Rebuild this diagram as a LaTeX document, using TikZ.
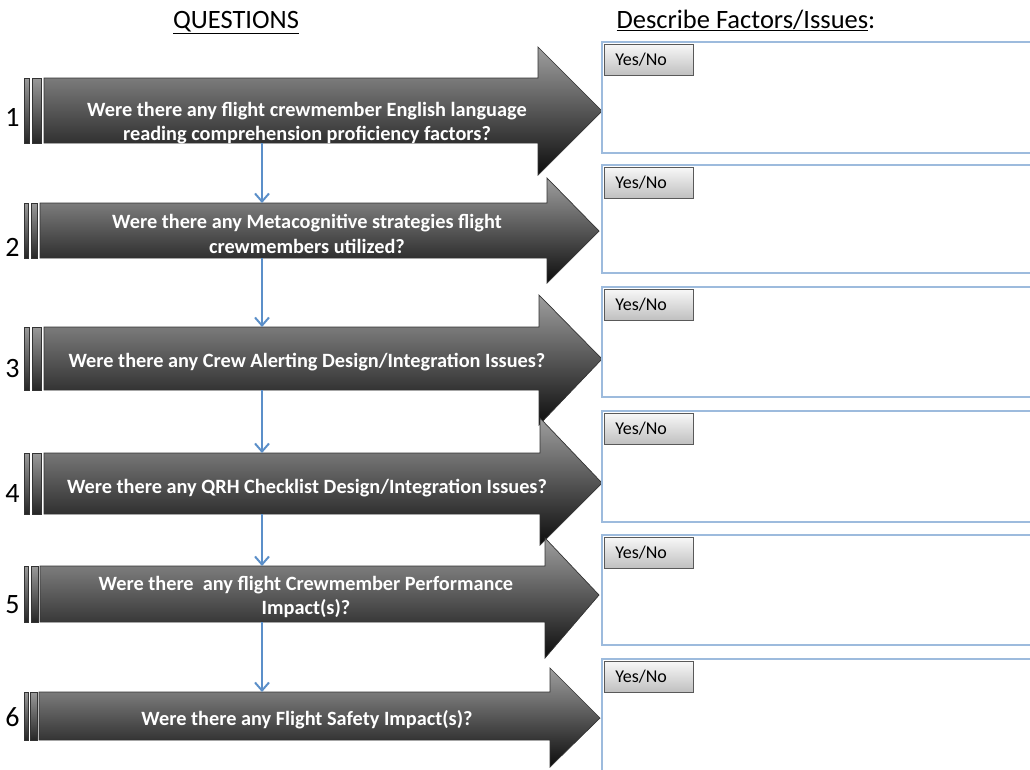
\documentclass[tikz,border=0pt]{standalone}
\usepackage{fontspec}
\setmainfont{Carlito}
\usetikzlibrary{arrows,arrows.meta,positioning,calc}
\definecolor{flowblue}{HTML}{5B8FC9}
\definecolor{boxblue}{HTML}{9DBBDD}

\begin{document}
\begin{tikzpicture}[x=1pt,y=-1pt,
    qarrow/.style={top color=black!38, bottom color=black!95, draw=black!80, line width=0.7pt},
    qbar/.style={top color=black!40, bottom color=black!85, draw=black!80, line width=0.6pt},
    qtext/.style={text=white, align=center, font=\fontsize{20.3}{24.5}\selectfont\bfseries},
    qnum/.style={anchor=base east, font=\fontsize{28}{28}\selectfont},
    head/.style={anchor=base, font=\fontsize{26.5}{26.5}\selectfont},
    ansbox/.style={draw=boxblue, line width=1.2pt},
    yesno/.style={draw=black!65, line width=0.8pt, top color=black!3, bottom color=black!25,
        anchor=north west, minimum width=89pt, minimum height=31pt, text width=67pt,
        inner xsep=11pt, align=left, font=\fontsize{18}{18}\selectfont},
    flow/.style={-{Straight Barb[length=8pt,width=14pt,line width=2pt]}, draw=flowblue, line width=2.2pt}]
    \clip (0,0) rectangle (1030,769);

    % Headings
    \node[head] (qhead) at (236,28) {\underline{QUESTIONS}};
    \node[head, anchor=base west] (ahead) at (613,28) {\underline{Describe Factors/Issues}:};

    % Question 1
    \draw[qbar] (24,78) rectangle (29,143);
    \draw[qbar] (32,78) rectangle (41,143);
    \draw[qarrow] (44,78) -- (538,78) -- (538,47) -- (602,111) -- (538,175) -- (538,143) -- (44,143) -- cycle;
    \node[qnum] (n1) at (23,126) {1};
    \node[qtext] (q1) at (307,123) {Were there any flight crewmember English language\\reading comprehension proficiency factors?};
    \coordinate (q1s) at (262,143);
    \draw[ansbox] (602,42) rectangle (1040,153);
    \node[yesno] (yn1) at (604,44) {Yes/No};

    % Question 2
    \draw[qbar] (24,203) rectangle (28,258);
    \draw[qbar] (31,203) rectangle (37,258);
    \draw[qarrow] (40,203) -- (547,203) -- (547,178) -- (599,231) -- (547,283) -- (547,258) -- (40,258) -- cycle;
    \node[qnum] (n2) at (23,256) {2};
    \node[qtext] (q2) at (307,234) {Were there any Metacognitive strategies flight\\crewmembers utilized?};
    \coordinate (q2n) at (262,203);
    \coordinate (q2s) at (262,258);
    \draw[ansbox] (602,165) rectangle (1040,273);
    \node[yesno] (yn2) at (604,167) {Yes/No};

    % Question 3
    \draw[qbar] (24,327) rectangle (29,390);
    \draw[qbar] (32,327) rectangle (41,390);
    \draw[qarrow] (44,327) -- (539,327) -- (539,295) -- (602,359) -- (539,425) -- (539,390) -- (44,390) -- cycle;
    \node[qnum] (n3) at (23,377) {3};
    \node[qtext] (q3) at (307,362) {Were there any Crew Alerting Design/Integration Issues?};
    \coordinate (q3n) at (262,327);
    \coordinate (q3s) at (262,390);
    \draw[ansbox] (602,287) rectangle (1040,397);
    \node[yesno] (yn3) at (604,289) {Yes/No};

    % Question 4
    \draw[qbar] (24,453) rectangle (29,514);
    \draw[qbar] (32,453) rectangle (41,514);
    \draw[qarrow] (44,453) -- (540,453) -- (540,418) -- (602,483) -- (540,545) -- (540,514) -- (44,514) -- cycle;
    \node[qnum] (n4) at (23,502) {4};
    \node[qtext] (q4) at (307,488) {Were there any QRH Checklist Design/Integration Issues?};
    \coordinate (q4n) at (262,453);
    \coordinate (q4s) at (262,514);
    \draw[ansbox] (602,411) rectangle (1040,522);
    \node[yesno] (yn4) at (604,413) {Yes/No};

    % Question 5
    \draw[qbar] (24,566) rectangle (28,622);
    \draw[qbar] (31,566) rectangle (38,622);
    \draw[qarrow] (40,566) -- (545,566) -- (545,538) -- (599,595) -- (545,658) -- (545,622) -- (40,622) -- cycle;
    \node[qnum] (n5) at (23,613) {5};
    \node[qtext] (q5) at (306,597) {Were there~ any flight Crewmember Performance\\Impact(s)?};
    \coordinate (q5n) at (262,566);
    \coordinate (q5s) at (262,622);
    \draw[ansbox] (602,535) rectangle (1040,645);
    \node[yesno] (yn5) at (604,537) {Yes/No};

    % Question 6
    \draw[qbar] (24,692) rectangle (28,740);
    \draw[qbar] (30,692) rectangle (37,740);
    \draw[qarrow] (39,692) -- (550,692) -- (550,668) -- (600,718) -- (550,767) -- (550,740) -- (39,740) -- cycle;
    \node[qnum] (n6) at (23,726) {6};
    \node[qtext] (q6) at (307,720) {Were there any Flight Safety Impact(s)?};
    \coordinate (q6n) at (262,692);
    \draw[ansbox] (602,659) rectangle (1040,780);
    \node[yesno] (yn6) at (604,661) {Yes/No};

    % Flow
    \draw[flow] (q1s) -- (q2n);
    \draw[flow] (q2s) -- (q3n);
    \draw[flow] (q3s) -- (q4n);
    \draw[flow] (q4s) -- (q5n);
    \draw[flow] (q5s) -- (q6n);
\end{tikzpicture}
\end{document}
